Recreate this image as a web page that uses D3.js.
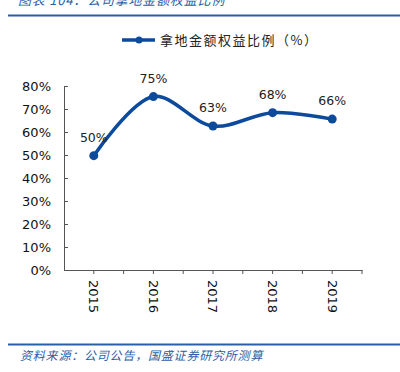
<!DOCTYPE html>
<html>
<head>
<meta charset="utf-8">
<script src="https://cdn.jsdelivr.net/npm/d3@7"></script>
<style>
  body { margin: 0; background: #fff; }
  svg { display: block; }
</style>
</head>
<body>
<div id="chart"></div>
<script>
const years = ['2015', '2016', '2017', '2018', '2019'];
const ratios = [49.7, 75.4, 62.6, 68.4, 65.6];
const pointLabels = ['50%', '75%', '63%', '68%', '66%'];
const yTicks = [0, 10, 20, 30, 40, 50, 60, 70, 80];

const width = 400;
const height = 372;
const blue = '#0c4a9c';
const frameBlue = '#2a5ea8';
const latin = 'DejaVu Sans, Verdana, sans-serif';
const cjk = '"Noto Sans CJK SC", sans-serif';

const svg = d3.select('#chart').append('svg').attr('width', width).attr('height', height);

// header + footer (the title is clipped by the top edge, as in the source image)
svg.append('text').attr('x', 18).attr('y', 5).attr('fill', frameBlue)
  .attr('font-family', cjk).attr('font-size', 13).attr('font-style', 'italic')
  .attr('letter-spacing', 0.8)
  .text('图表 104：公司拿地金额权益比例');
svg.append('line').attr('x1', 8).attr('x2', 400).attr('y1', 15.5).attr('y2', 15.5)
  .attr('stroke', frameBlue).attr('stroke-width', 2);
svg.append('line').attr('x1', 8).attr('x2', 400).attr('y1', 344.5).attr('y2', 344.5)
  .attr('stroke', frameBlue).attr('stroke-width', 2);
svg.append('text').attr('x', 20).attr('y', 360).attr('fill', frameBlue)
  .attr('font-family', cjk).attr('font-size', 12).attr('font-style', 'italic')
  .attr('letter-spacing', 0.8)
  .text('资料来源：公司公告，国盛证券研究所测算');

// legend
const lg = svg.append('g').attr('transform', 'translate(122,40)');
lg.append('line').attr('x1', 0).attr('x2', 33).attr('stroke', blue).attr('stroke-width', 3.5);
lg.append('circle').attr('cx', 17).attr('r', 3.5).attr('fill', blue);
lg.append('text').attr('x', 38).attr('y', 5).attr('font-family', cjk).attr('font-size', 13)
  .attr('letter-spacing', 1.5)
  .attr('fill', '#222').text('拿地金额权益比例（%）');

// scales
const x = d3.scaleBand().domain(years).range([64, 362]);
const y = d3.scaleLinear().domain([0, 80]).range([270, 86]);

const yAxis = svg.append('g').attr('transform', 'translate(64,0)')
  .call(d3.axisLeft(y).tickValues(yTicks).tickFormat(d => d + '%').tickSize(4).tickSizeOuter(0));
yAxis.select('.domain').attr('stroke', '#555');
yAxis.selectAll('.tick line').attr('stroke', '#555').attr('x2', 4);
yAxis.selectAll('.tick text').attr('x', -13).attr('font-family', latin).attr('font-size', 13).attr('fill', '#111');

const xAxis = svg.append('g').attr('transform', 'translate(0,270)')
  .call(d3.axisBottom(x).tickSize(0).tickSizeOuter(0));
xAxis.select('.domain').attr('stroke', '#555');
xAxis.selectAll('.tick text')
  .attr('font-family', latin).attr('font-size', 13).attr('fill', '#111')
  .attr('transform', 'rotate(90)').attr('text-anchor', 'start')
  .attr('x', 10).attr('y', 0).attr('dy', '0.35em');

// tick marks at band edges and centers
const bw = x.bandwidth();
const tickXs = [];
years.forEach(yr => { tickXs.push(x(yr)); tickXs.push(x(yr) + bw / 2); });
tickXs.push(x(years[years.length - 1]) + bw);
svg.append('g').selectAll('line').data(tickXs.slice(1)).enter().append('line')
  .attr('x1', d => d).attr('x2', d => d).attr('y1', 270).attr('y2', 274)
  .attr('stroke', '#555');

// series
const cx = d => x(d.year) + bw / 2;
const pts = years.map((yr, i) => ({ year: yr, v: ratios[i], label: pointLabels[i] }));

svg.append('path').datum(pts)
  .attr('fill', 'none').attr('stroke', blue).attr('stroke-width', 3.5)
  .attr('d', d3.line().x(cx).y(d => y(d.v)).curve(d3.curveCatmullRom.alpha(0.5)));

svg.append('g').selectAll('circle').data(pts).enter().append('circle')
  .attr('cx', cx).attr('cy', d => y(d.v)).attr('r', 4.5).attr('fill', blue);

svg.append('g').selectAll('text').data(pts).enter().append('text')
  .attr('x', cx).attr('y', d => y(d.v) - 14)
  .attr('text-anchor', 'middle').attr('font-family', latin).attr('font-size', 12.5)
  .attr('fill', '#222').text(d => d.label);
</script>
</body>
</html>
